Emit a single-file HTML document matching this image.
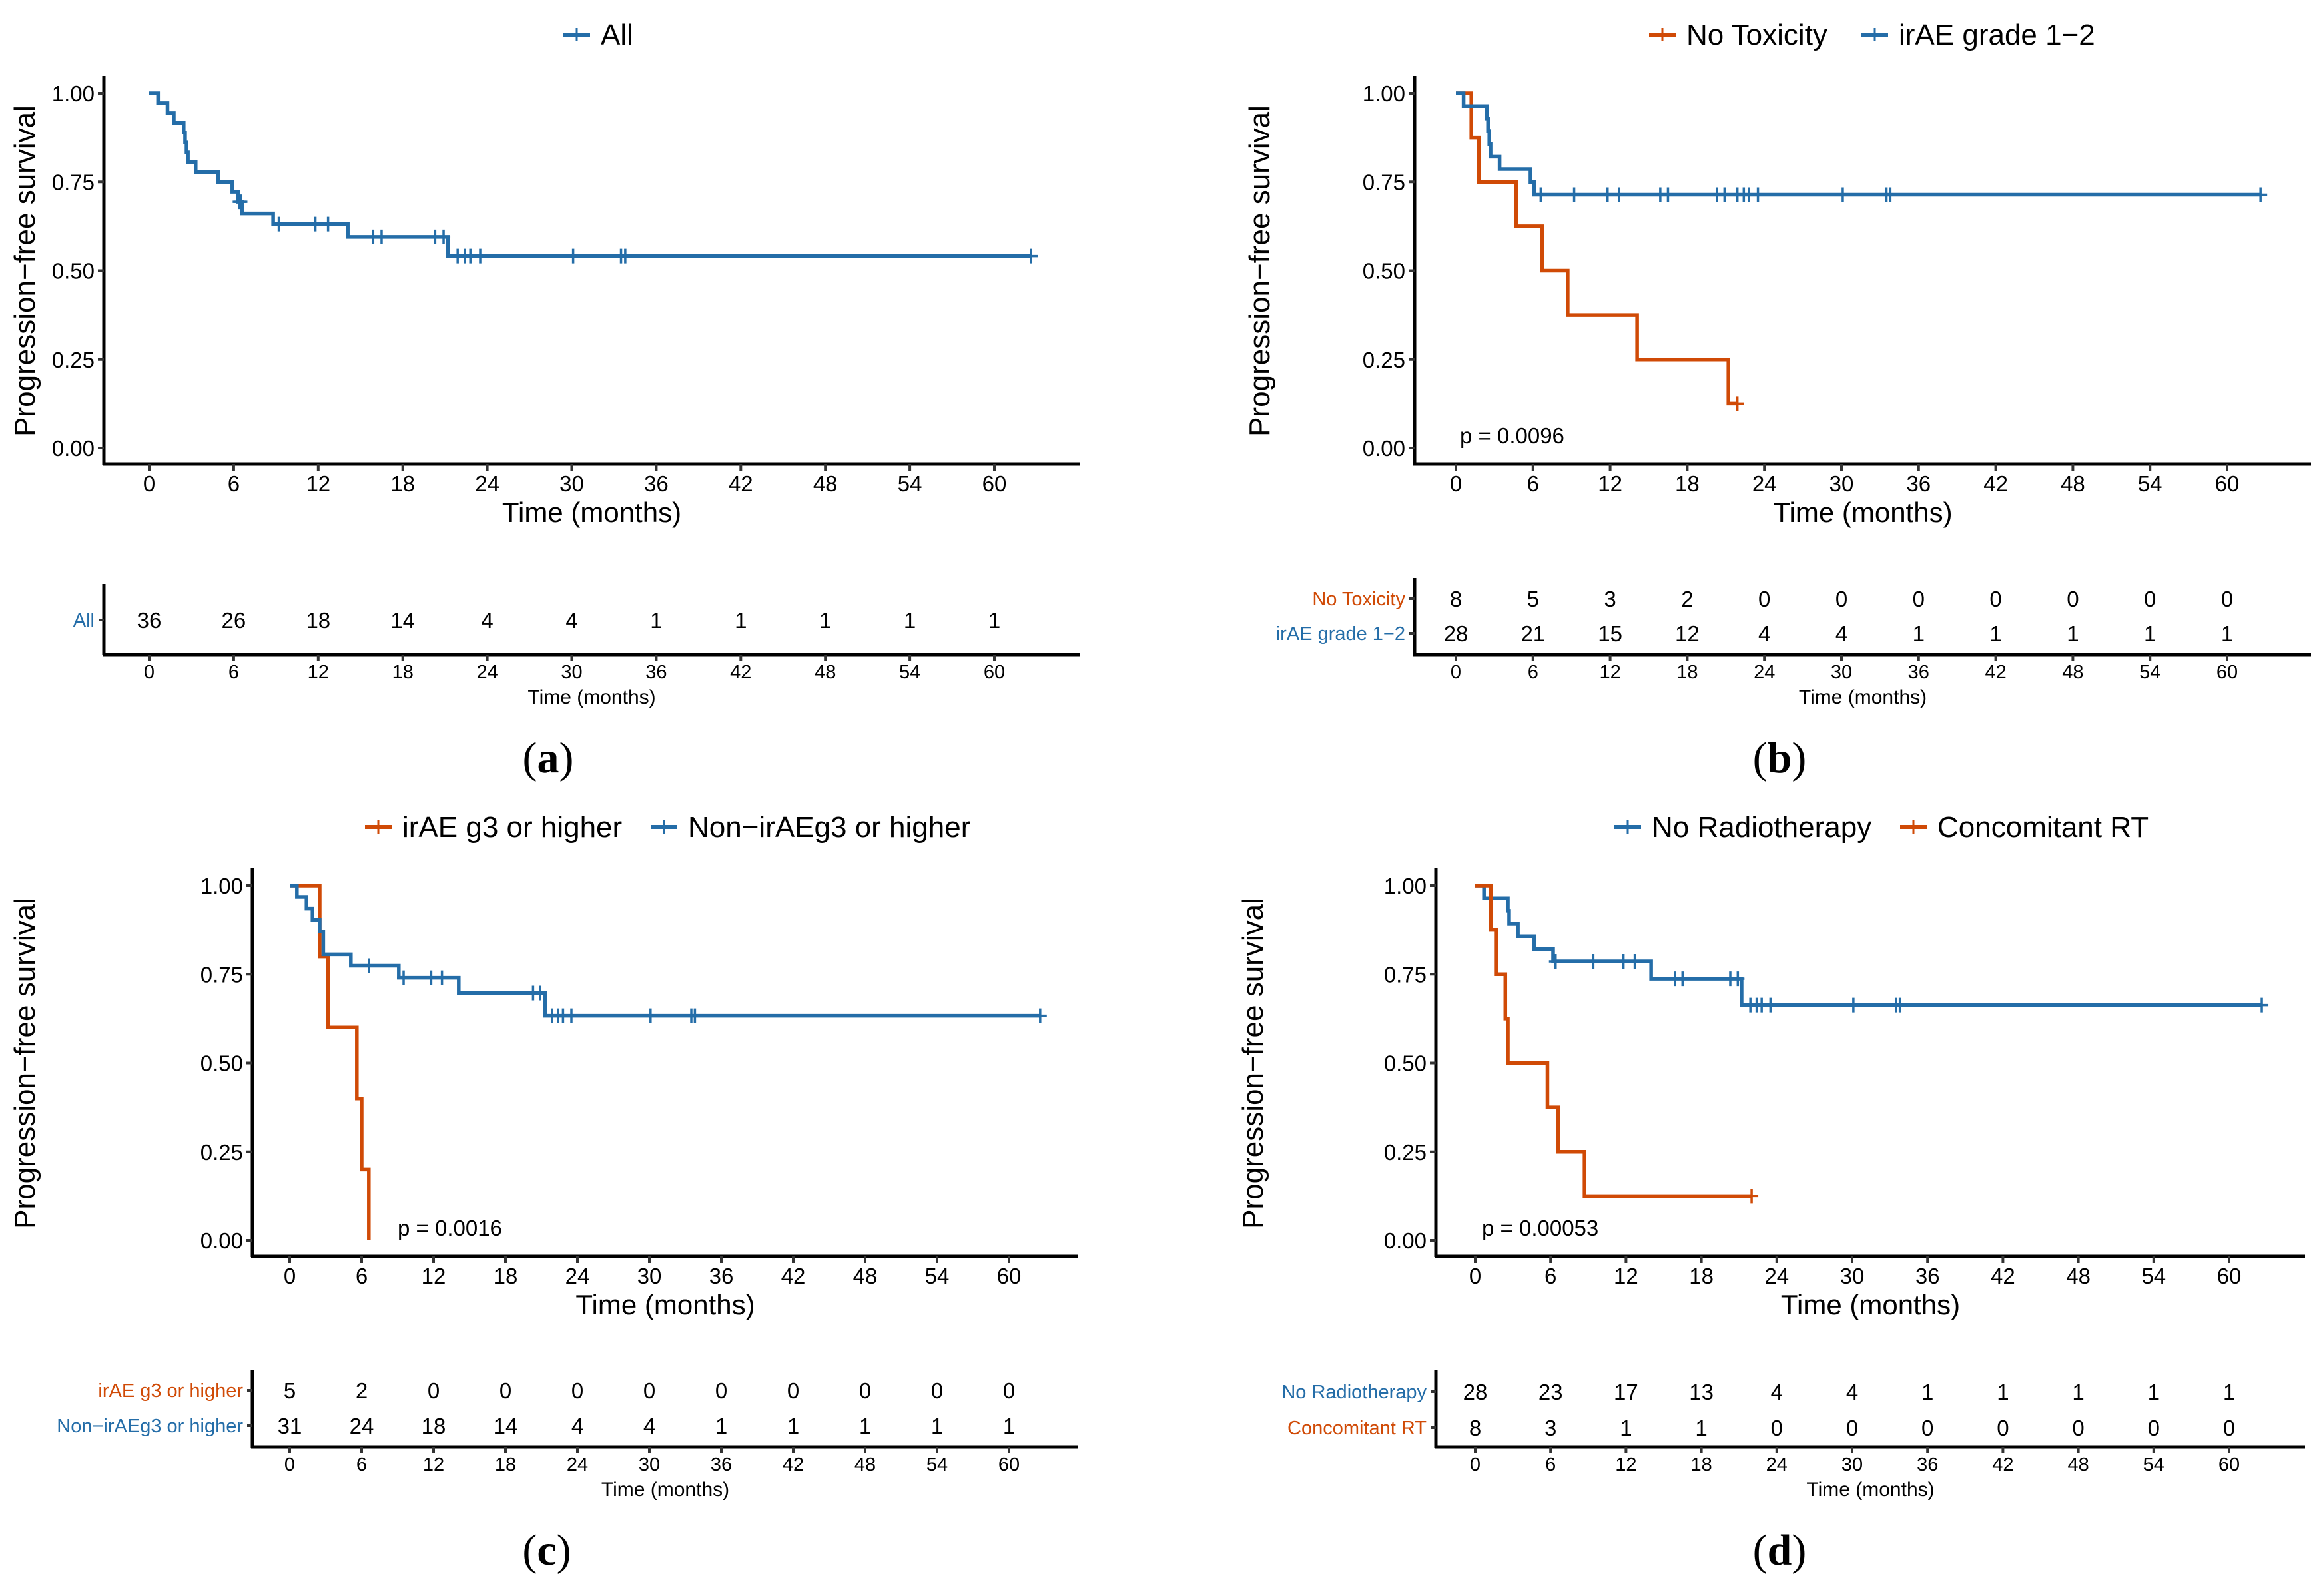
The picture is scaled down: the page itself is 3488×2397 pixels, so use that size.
<!DOCTYPE html>
<html><head><meta charset="utf-8"><style>
html,body{margin:0;padding:0;background:#fff;}
svg{display:block;font-family:"Liberation Sans",sans-serif;}
</style></head><body>
<svg id="fig" width="3488" height="2397" viewBox="0 0 3488 2397" xmlns="http://www.w3.org/2000/svg"></svg>
<script>
// ---- data ----
const xTicks = [0,6,12,18,24,30,36,42,48,54,60];
const yTicks = [0,0.25,0.5,0.75,1];
const yTickLabels = ["0.00","0.25","0.50","0.75","1.00"];
// Panel a: All
const aAllTimes = [0,0.63,1.3,1.75,2.45,2.55,2.65,2.75,3.3,4.9,5.9,6.3,6.6,8.8,14.1,21.2,62.6];
const aAllSurv  = [1,0.972,0.944,0.917,0.889,0.861,0.833,0.806,0.778,0.75,0.722,0.694,0.661,0.631,0.595,0.541,0.541];
const aAllCens  = [6.4,6.5,9.2,11.8,12.7,15.9,16.5,20.3,20.9,21.9,22.4,22.8,23.5,30.1,33.5,33.8,62.6];
const aAllRisk  = [36,26,18,14,4,4,1,1,1,1,1];
// Panel b
const bNoTimes = [0,1.2,1.8,4.7,6.7,8.7,14.1,21.2,21.9];
const bNoSurv  = [1,0.875,0.75,0.625,0.5,0.375,0.25,0.125,0.125];
const bNoCens  = [21.9];
const bNoRisk  = [8,5,3,2,0,0,0,0,0,0,0];
const bIrTimes = [0,0.6,2.4,2.5,2.6,2.7,3.4,5.8,6.1,62.6];
const bIrSurv  = [1,0.964,0.929,0.893,0.857,0.821,0.786,0.75,0.714,0.714];
const bIrCens  = [6.6,9.2,11.8,12.7,15.9,16.5,20.3,20.9,21.9,22.4,22.8,23.5,30.1,33.5,33.8,62.6];
const bIrRisk  = [28,21,15,12,4,4,1,1,1,1,1];
// Panel c
const cG3Times = [0,2.5,3.2,5.6,6.0,6.6];
const cG3Surv  = [1,0.8,0.6,0.4,0.2,0];
const cG3Cens  = [];
const cG3Risk  = [5,2,0,0,0,0,0,0,0,0,0];
const cNonTimes = [0,0.6,1.4,1.9,2.5,2.8,5.1,9.1,14.1,21.3,62.6];
const cNonSurv  = [1,0.968,0.935,0.903,0.871,0.806,0.774,0.74,0.697,0.633,0.633];
const cNonCens  = [6.6,9.5,11.8,12.7,20.3,20.9,21.9,22.4,22.8,23.5,30.1,33.5,33.8,62.6];
const cNonRisk  = [31,24,18,14,4,4,1,1,1,1,1];
// Panel d
const dNoTimes = [0,0.7,2.6,2.7,3.4,4.7,6.2,14.0,21.2,62.6];
const dNoSurv  = [1,0.964,0.929,0.893,0.857,0.821,0.786,0.737,0.663,0.663];
const dNoCens  = [6.4,9.4,11.8,12.7,15.9,16.5,20.3,20.9,21.9,22.4,22.8,23.5,30.1,33.5,33.8,62.6];
const dNoRisk  = [28,23,17,13,4,4,1,1,1,1,1];
const dRtTimes = [0,1.25,1.7,2.4,2.6,5.75,6.6,8.7,22.0];
const dRtSurv  = [1,0.875,0.75,0.625,0.5,0.375,0.25,0.125,0.125];
const dRtCens  = [22.0];
const dRtRisk  = [8,3,1,1,0,0,0,0,0,0,0];

const BLUE="#246da8", ORANGE="#d04a06";
const NS="http://www.w3.org/2000/svg";
const svg=document.getElementById('fig');
function el(tag,attrs,parent,text){const e=document.createElementNS(NS,tag);for(const k in attrs)e.setAttribute(k,attrs[k]);if(text!==undefined)e.textContent=text;(parent||svg).appendChild(e);return e;}

function survAt(times,surv,t){let v=surv[0];for(let i=0;i<times.length;i++){if(times[i]<=t)v=surv[i];}return v;}

function drawPanel(P){
  const g=el('g',{});
  
  
  const oy=P.oy-4;
  const X=t=>P.x0+(t/60)*(P.x60-P.x0);
  const Y=v=>oy+677-v*(677-144);
  // legend
  P.series.forEach(s=>{
    const lg=el('g',{},g);
    
    
    el('line',{x1:s.lx,x2:s.lx+40,y1:oy+56,y2:oy+56,stroke:s.color,'stroke-width':6},lg);
    el('line',{x1:s.lx+20,x2:s.lx+20,y1:oy+46,y2:oy+66,stroke:s.color,'stroke-width':3},lg);
    el('text',{x:s.lx+56,y:oy+71,'font-size':44,fill:'#000'},lg,s.name);
  });
  // axes
  const ax=el('g',{},g);
  
  
  el('line',{x1:P.axL,x2:P.axL,y1:oy+118,y2:oy+702,stroke:'#000','stroke-width':5},ax);
  el('line',{x1:P.axL-2,x2:P.axR,y1:oy+701,y2:oy+701,stroke:'#000','stroke-width':5},ax);
  yTicks.forEach((v,i)=>{
    el('line',{x1:P.axL-9,x2:P.axL,y1:Y(v),y2:Y(v),stroke:'#333','stroke-width':4},ax);
    el('text',{x:P.axL-14,y:Y(v)+12,'font-size':33,'text-anchor':'end'},ax,yTickLabels[i]);
  });
  xTicks.forEach(t=>{
    el('line',{x1:X(t),x2:X(t),y1:oy+701,y2:oy+711,stroke:'#333','stroke-width':4},ax);
    el('text',{x:X(t),y:oy+742,'font-size':33,'text-anchor':'middle'},ax,String(t));
  });
  const xt=el('text',{x:(P.axL+P.axR)/2,y:oy+788,'font-size':42,'text-anchor':'middle'},g,'Time (months)');
  
  
  const yt=el('text',{x:0,y:0,'font-size':44,'text-anchor':'middle',transform:`translate(${P.ytx},${oy+411}) rotate(-90)`},g,'Progression\u2212free survival');
  
  
  // curves
  P.series.forEach(s=>{
    let d=`M${X(s.times[0])},${Y(s.surv[0])}`;
    for(let i=1;i<s.times.length;i++){d+=` H${X(s.times[i])} V${Y(s.surv[i])}`;}
    const p=el('path',{d:d,fill:'none',stroke:s.color,'stroke-width':5.5},g);
    
    
    s.cens.forEach(t=>{
      const v=survAt(s.times,s.surv,t);
      const c=el('path',{d:`M${X(t)-10},${Y(v)} H${X(t)+10} M${X(t)},${Y(v)-11} V${Y(v)+11}`,stroke:s.color,'stroke-width':3.5,fill:'none'},g);
      
      
    });
  });
  if(P.p){const pt=el('text',{x:P.px,y:oy+670,'font-size':33},g,P.p);
    
    }
  // risk table
  const rt=el('g',{},g);
  
  
  el('line',{x1:P.axL,x2:P.axL,y1:oy+P.tTop,y2:oy+988,stroke:'#000','stroke-width':5},rt);
  el('line',{x1:P.axL-2,x2:P.axR,y1:oy+987,y2:oy+987,stroke:'#000','stroke-width':5},rt);
  P.series.forEach((s,k)=>{
    const ry=oy+P.rows[k];
    el('line',{x1:P.axL-8,x2:P.axL,y1:ry,y2:ry,stroke:'#333','stroke-width':4},rt);
    el('text',{x:P.axL-14,y:ry+10,'font-size':29,'text-anchor':'end',fill:s.color},rt,s.name);
    s.risk.forEach((n,i)=>{el('text',{x:X(xTicks[i]),y:ry+12,'font-size':33,'text-anchor':'middle'},rt,String(n));});
  });
  xTicks.forEach(t=>{
    el('line',{x1:X(t),x2:X(t),y1:oy+987,y2:oy+996,stroke:'#333','stroke-width':4},rt);
    el('text',{x:X(t),y:oy+1023,'font-size':29,'text-anchor':'middle'},rt,String(t));
  });
  el('text',{x:(P.axL+P.axR)/2,y:oy+1061,'font-size':30,'text-anchor':'middle'},rt,'Time (months)');
  const lab=el('text',{x:P.labX,y:oy+1164,'font-size':66,'text-anchor':'middle','font-family':'"Liberation Serif",serif'},g);
  
  
  el('tspan',{},lab,'(');el('tspan',{'font-weight':'bold'},lab,P.id);el('tspan',{},lab,')');
}

drawPanel({id:'a',oy:0,axL:156,axR:1621,x0:224,x60:1493,ytx:52,tTop:881,rows:[935],labX:823,
  series:[{key:'all',name:'All',color:BLUE,lx:846,times:aAllTimes,surv:aAllSurv,cens:aAllCens,risk:aAllRisk}]});
drawPanel({id:'b',oy:0,axL:2124,axR:3470,x0:2186,x60:3344,ytx:1906,tTop:872,rows:[903,955],labX:2672,p:'p = 0.0096',px:2192,
  series:[{key:'no-toxicity',name:'No Toxicity',color:ORANGE,lx:2476,times:bNoTimes,surv:bNoSurv,cens:bNoCens,risk:bNoRisk},
          {key:'irae-grade-1-2',name:'irAE grade 1\u22122',color:BLUE,lx:2795,times:bIrTimes,surv:bIrSurv,cens:bIrCens,risk:bIrRisk}]});
drawPanel({id:'c',oy:1190,axL:379,axR:1619,x0:435,x60:1515,ytx:52,tTop:872,rows:[902,955],labX:821,p:'p = 0.0016',px:597,
  series:[{key:'irae-g3',name:'irAE g3 or higher',color:ORANGE,lx:548,times:cG3Times,surv:cG3Surv,cens:cG3Cens,risk:cG3Risk},
          {key:'non-irae-g3',name:'Non\u2212irAEg3 or higher',color:BLUE,lx:977,times:cNonTimes,surv:cNonSurv,cens:cNonCens,risk:cNonRisk}]});
drawPanel({id:'d',oy:1190,axL:2156,axR:3461,x0:2215,x60:3347,ytx:1896,tTop:872,rows:[904,958],labX:2672,p:'p = 0.00053',px:2225,
  series:[{key:'no-radiotherapy',name:'No Radiotherapy',color:BLUE,lx:2424,times:dNoTimes,surv:dNoSurv,cens:dNoCens,risk:dNoRisk},
          {key:'concomitant-rt',name:'Concomitant RT',color:ORANGE,lx:2853,times:dRtTimes,surv:dRtSurv,cens:dRtCens,risk:dRtRisk}]});
</script>
</body></html>
